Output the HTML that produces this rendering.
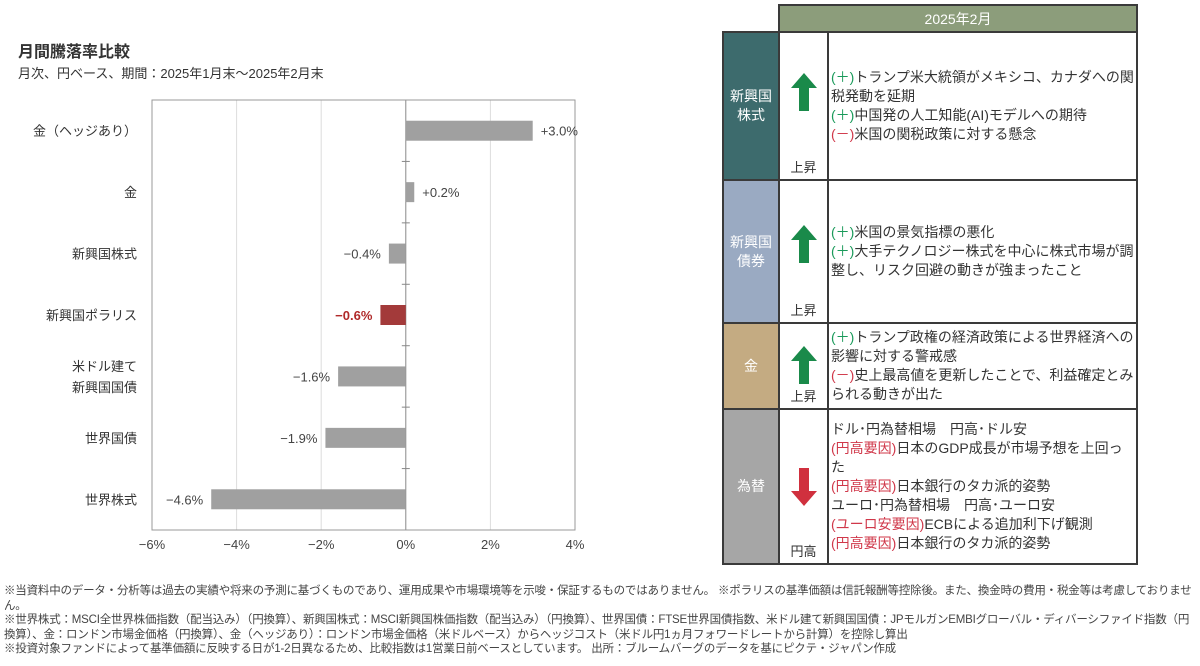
<!DOCTYPE html>
<html><head><meta charset="utf-8">
<style>
body{margin:0;width:1200px;height:666px;background:#fff;font-family:"Liberation Sans","Noto Sans CJK JP",sans-serif;color:#333;position:relative;overflow:hidden}
.abs{position:absolute}
#tbl td{border:2px solid #3a3a3a;padding:0;vertical-align:middle}
.cat{color:#fff;text-align:center;font-size:14px;line-height:19px}
.txt{font-size:14px;line-height:19px;padding-left:2px !important;color:#333}
.g{color:#1a9a5a}.r{color:#d0384a}
.lab{position:absolute;bottom:3px;left:0;width:100%;text-align:center;font-size:13px}
.note{font-size:11.5px;line-height:14.5px;color:#444;letter-spacing:-0.2px}
</style></head><body>
<div class="abs" style="left:18px;top:38px;font-size:16px;font-weight:bold;color:#333">月間騰落率比較</div>
<div class="abs" style="left:18px;top:63px;font-size:13px">月次、円ベース、期間：2025年1月末～2025年2月末</div>
<svg class="abs" style="left:0;top:90px" width="620" height="470" id="chart"></svg>

<table id="tbl" class="abs" style="left:722px;top:4px;border-collapse:collapse;width:416px">
<tr style="height:27px"><td style="border:none"></td><td colspan="2" style="background:#8c9d7b;color:#fff;text-align:center;font-size:14px">2025年2月</td></tr>
<tr style="height:148px"><td class="cat" style="background:#3d6b6d;width:54px">新興国<br>株式</td>
<td style="width:47px;position:relative"><svg style="position:absolute;left:11px;top:40px" width="26" height="38"><polygon points="13,0 26,15 18,15 18,38 8,38 8,15 0,15" fill="#1a8a4a"/></svg><div class="lab">上昇</div></td>
<td class="txt"><span class="g">(＋)</span>トランプ米大統領がメキシコ、カナダへの関税発動を延期<br><span class="g">(＋)</span>中国発の人工知能(AI)モデルへの期待<br><span class="r">(－)</span>米国の関税政策に対する懸念</td></tr>
<tr style="height:143px"><td class="cat" style="background:#9aaac2">新興国<br>債券</td>
<td style="position:relative"><svg style="position:absolute;left:11px;top:44px" width="26" height="38"><polygon points="13,0 26,15 18,15 18,38 8,38 8,15 0,15" fill="#1a8a4a"/></svg><div class="lab">上昇</div></td>
<td class="txt"><span class="g">(＋)</span>米国の景気指標の悪化<br><span class="g">(＋)</span>大手テクノロジー株式を中心に株式市場が調整し、リスク回避の動きが強まったこと</td></tr>
<tr style="height:86px"><td class="cat" style="background:#c4ab82">金</td>
<td style="position:relative"><svg style="position:absolute;left:11px;top:22px" width="26" height="38"><polygon points="13,0 26,15 18,15 18,38 8,38 8,15 0,15" fill="#1a8a4a"/></svg><div class="lab">上昇</div></td>
<td class="txt"><span class="g">(＋)</span>トランプ政権の経済政策による世界経済への影響に対する警戒感<br><span class="r">(－)</span>史上最高値を更新したことで、利益確定とみられる動きが出た</td></tr>
<tr style="height:155px"><td class="cat" style="background:#a6a6a6">為替</td>
<td style="position:relative"><svg style="position:absolute;left:11px;top:58px" width="26" height="38"><polygon points="8,0 18,0 18,23 26,23 13,38 0,23 8,23" fill="#d0303e"/></svg><div class="lab">円高</div></td>
<td class="txt">ドル･円為替相場　円高･ドル安<br><span class="r">(円高要因)</span>日本のGDP成長が市場予想を上回った<br><span class="r">(円高要因)</span>日本銀行のタカ派的姿勢<br>ユーロ･円為替相場　円高･ユーロ安<br><span class="r">(ユーロ安要因)</span>ECBによる追加利下げ観測<br><span class="r">(円高要因)</span>日本銀行のタカ派的姿勢</td></tr>
</table>

<div class="abs note" style="left:4px;top:584px;width:1194px">※当資料中のデータ・分析等は過去の実績や将来の予測に基づくものであり、運用成果や市場環境等を示唆・保証するものではありません。 ※ポラリスの基準価額は信託報酬等控除後。また、換金時の費用・税金等は考慮しておりません。<br>※世界株式：MSCI全世界株価指数（配当込み）（円換算）、新興国株式：MSCI新興国株価指数（配当込み）（円換算）、世界国債：FTSE世界国債指数、米ドル建て新興国国債：JPモルガンEMBIグローバル・ディバーシファイド指数（円換算）、金：ロンドン市場金価格（円換算）、金（ヘッジあり）：ロンドン市場金価格（米ドルベース）からヘッジコスト（米ドル円1ヵ月フォワードレートから計算）を控除し算出<br>※投資対象ファンドによって基準価額に反映する日が1-2日異なるため、比較指数は1営業日前ベースとしています。 出所：ブルームバーグのデータを基にピクテ・ジャパン作成</div>

<script>
const categories=["金（ヘッジあり）","金","新興国株式","新興国ポラリス","米ドル建て|新興国国債","世界国債","世界株式"];
const values=[3.0,0.2,-0.4,-0.6,-1.6,-1.9,-4.6];
const valueLabels=["+3.0%","+0.2%","−0.4%","−0.6%","−1.6%","−1.9%","−4.6%"];
const highlight=[false,false,false,true,false,false,false];
const ticks=[-6,-4,-2,0,2,4];
const tickLabels=["−6%","−4%","−2%","0%","2%","4%"];
const svg=document.getElementById('chart');
const NS="http://www.w3.org/2000/svg";
const X0=152,X1=575,T=10,B=440;
const xs=v=>X0+(v+6)/10*(X1-X0);
const band=(B-T)/categories.length;
const yc=i=>T+band*(i+0.5);
function mk(t,a){const e=document.createElementNS(NS,t);for(const k in a)e.setAttribute(k,a[k]);svg.appendChild(e);return e;}
ticks.forEach((v,i)=>{
 const l=mk('line',{x1:xs(v),x2:xs(v),y1:T,y2:B,stroke:v===0?'#888':'#ddd','stroke-width':1});
 
 
 const t=mk('text',{x:xs(v),y:B+19,'text-anchor':'middle','font-size':13,fill:'#444'});
 t.textContent=tickLabels[i];
 
 
});
const fr=mk('rect',{x:X0,y:T,width:X1-X0,height:B-T,fill:'none',stroke:'#999'});


categories.forEach((c,i)=>{
 const v=values[i],y=yc(i),x=Math.min(xs(0),xs(v)),w=Math.abs(xs(v)-xs(0));
 const r=mk('rect',{x:x,y:y-10,width:w,height:20,fill:highlight[i]?'#a33a3a':'#a0a0a0'});
 
 
 const lab=mk('text',{x:v>=0?xs(v)+8:xs(v)-8,y:y+5,'text-anchor':v>=0?'start':'end','font-size':13,fill:highlight[i]?'#b02a2a':'#444','font-weight':highlight[i]?'bold':'normal'});
 lab.textContent=valueLabels[i];
 
 
 const parts=c.split('|');
 parts.forEach((p,j)=>{
  const t=mk('text',{x:137,y:y+5+(j-(parts.length-1)/2)*21,'text-anchor':'end','font-size':13,fill:'#333'});
  t.textContent=p;
  
  
 });
 if(i>0){const tk=mk('line',{x1:xs(0)-4,x2:xs(0)+4,y1:T+band*i,y2:T+band*i,stroke:'#888'});
 
 }
});
</script>
</body></html>
